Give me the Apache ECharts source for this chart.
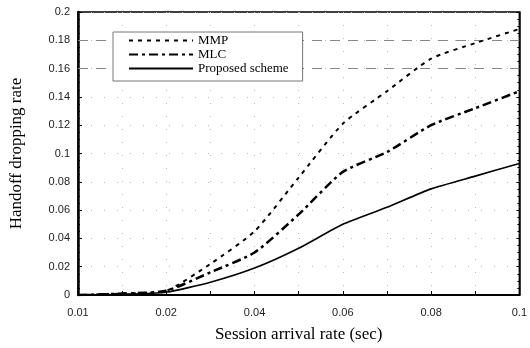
<!DOCTYPE html>
<html>
<head>
<meta charset="utf-8">
<script src="https://cdn.jsdelivr.net/npm/echarts@6/dist/echarts.min.js"></script>
<style>
  html, body { margin: 0; padding: 0; background: #fff; }
  #chart { width: 530px; height: 348px; }
</style>
</head>
<body>
<div id="chart"></div>
<script>
// session arrival rate (x) and dropping rates
const arrivalRate = [0, 0.01, 0.02, 0.03, 0.04, 0.05, 0.06, 0.07, 0.08, 0.09, 0.1]
const mmp = [0, 0.001, 0.003, 0.022, 0.045, 0.083, 0.121, 0.144, 0.167, 0.178, 0.188]
const mlc = [0, 0.001, 0.003, 0.016, 0.030, 0.057, 0.087, 0.101, 0.120, 0.132, 0.144]
const proposed = [0, 0.0005, 0.002, 0.009, 0.019, 0.033, 0.050, 0.062, 0.075, 0.084, 0.093]

// x tick labels (the first one is printed as 0.01 in the original)
const xTickVals = [0, 0.02, 0.04, 0.06, 0.08, 0.1]
const xTickText = ['0.01', '0.02', '0.04', '0.06', '0.08', '0.1']
const refLines = [0.16, 0.18]

const chart = echarts.init(document.getElementById('chart'))

function pairs(ys) {
  return arrivalRate.map((x, i) => [x, ys[i]])
}

const serif = '"Liberation Serif", "Times New Roman", serif'
const sans = '"Liberation Sans", Arial, sans-serif'

const option = {
  animation: false,
  grid: {
    left: 70,
    right: 9,
    top: 12,
    bottom: 46,
    show: true,
    borderColor: '#000',
    borderWidth: 1.5
  },
  legend: {
    orient: 'vertical',
    left: 113,
    top: 32,
    padding: [2, 14, 6, 15],
    itemGap: 1,
    itemWidth: 64,
    itemHeight: 14,
    backgroundColor: '#fff',
    borderColor: '#777',
    borderWidth: 1,
    borderRadius: 0,
    itemStyle: { opacity: 0 },
    textStyle: {
      fontFamily: serif,
      fontSize: 13,
      color: '#000'
    },
    data: ['MMP', 'MLC', 'Proposed scheme']
  },
  xAxis: {
    type: 'value',
    min: 0,
    max: 0.1,
    interval: 0.01,
    name: 'Session arrival rate (sec)',
    nameLocation: 'middle',
    nameGap: 31,
    nameTextStyle: {
      fontFamily: serif,
      fontSize: 17,
      color: '#000'
    },
    axisLine: { lineStyle: { color: '#000', width: 2 } },
    axisTick: { inside: true, length: 4, lineStyle: { color: '#000' } },
    axisLabel: {
      margin: 12,
      fontFamily: sans,
      fontSize: 11,
      color: '#222',
      formatter: function (v) {
        const i = xTickVals.findIndex(t => Math.abs(t - v) < 1e-9)
        return i >= 0 ? xTickText[i] : ''
      }
    },
    splitLine: {
      show: true,
      lineStyle: { color: '#bbb', type: [1, 12], width: 1 }
    }
  },
  yAxis: [
    {
      type: 'value',
      min: 0,
      max: 0.2,
      interval: 0.02,
      name: 'Handoff dropping rate',
      nameLocation: 'middle',
      nameGap: 53,
      nameTextStyle: {
        fontFamily: serif,
        fontSize: 17,
        color: '#000'
      },
      axisLine: { lineStyle: { color: '#000', width: 2.5 } },
      axisTick: { inside: true, length: 4, lineStyle: { color: '#000' } },
      minorTick: { show: true, splitNumber: 4, length: 2, lineStyle: { color: '#000' } },
      axisLabel: {
        margin: 8,
        fontFamily: sans,
        fontSize: 11,
        color: '#222'
      },
      splitLine: {
        show: true,
        lineStyle: { color: '#bbb', type: [1, 12], width: 1 }
      }
    },
    {
      type: 'value',
      position: 'right',
      min: 0,
      max: 0.2,
      interval: 0.02,
      axisLine: { show: true, lineStyle: { color: '#000', width: 1.5 } },
      axisTick: { inside: true, length: 3, lineStyle: { color: '#000' } },
      minorTick: { show: true, splitNumber: 4, length: 2, lineStyle: { color: '#000' } },
      axisLabel: { show: false },
      splitLine: { show: false }
    }
  ],
  series: [
    {
      name: 'Proposed scheme',
      type: 'line',
      symbol: 'none',
      smooth: 0.2,
      z: 3,
      lineStyle: { color: '#000', width: 1.6, type: 'solid' },
      itemStyle: { color: '#000' },
      data: pairs(proposed),
      markLine: {
        silent: true,
        symbol: 'none',
        label: { show: false },
        z: 1,
        lineStyle: { color: '#888', type: [10, 8], width: 1 },
        data: refLines.map(v => ({ yAxis: v }))
      }
    },
    {
      name: 'MMP',
      type: 'line',
      symbol: 'none',
      smooth: 0.2,
      z: 3,
      lineStyle: { color: '#000', width: 2, type: [4, 5] },
      itemStyle: { color: '#000' },
      data: pairs(mmp)
    },
    {
      name: 'MLC',
      type: 'line',
      symbol: 'none',
      smooth: 0.2,
      z: 3,
      lineStyle: { color: '#000', width: 2.5, type: [9, 4, 3, 4] },
      itemStyle: { color: '#000' },
      data: pairs(mlc)
    }
  ]
}

chart.setOption(option)
</script>
</body>
</html>
